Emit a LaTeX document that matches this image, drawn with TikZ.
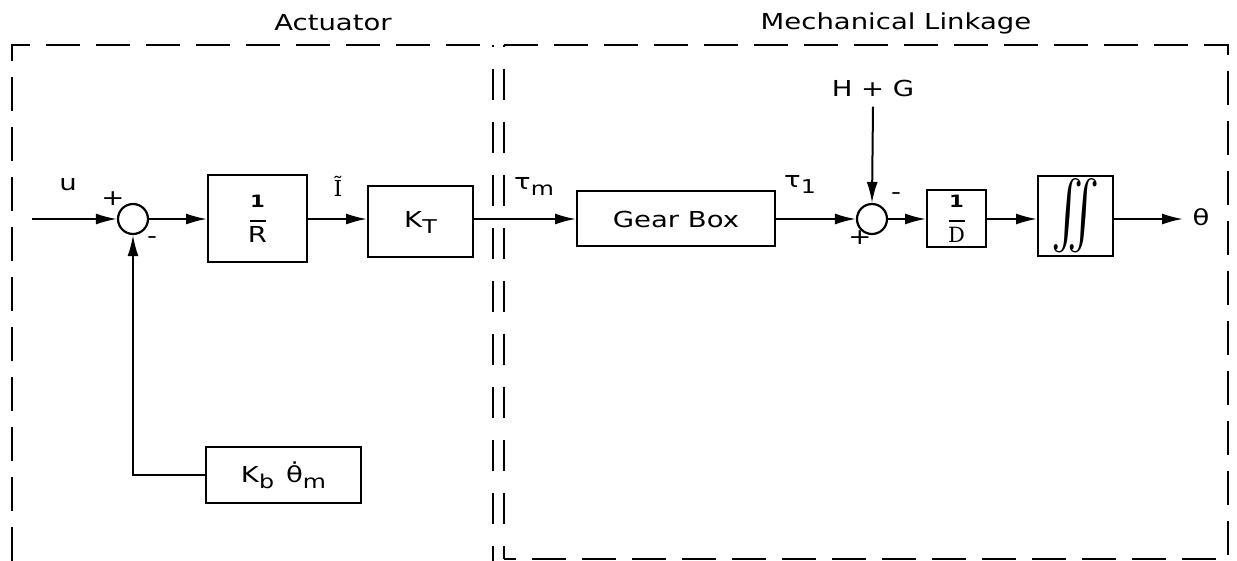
\documentclass[tikz,border=0pt]{standalone}
\usepackage{fontspec}
\usepackage{graphicx}
\setmainfont{DejaVu Sans}[FakeStretch=1.25]
\newfontfamily\serifd{DejaVu Serif}
\usetikzlibrary{arrows.meta}
\newcommand\lsub[1]{\raisebox{-6pt}{\fontsize{19}{19}\selectfont #1}}
\begin{document}
\begin{tikzpicture}[x=1pt,y=-1pt,
  every node/.style={font=\fontsize{22}{24}\selectfont},
  blk/.style={draw,line width=2pt,inner sep=0pt},
  sumj/.style={draw,circle,line width=2.2pt,minimum size=30pt,inner sep=0pt},
  sig/.style={line width=2pt,-{Latex[length=21pt,width=11pt]}},
  grp/.style={line width=2.6pt,dash pattern=on 34pt off 16pt},
  vgrp/.style={line width=2.6pt,dash pattern=on 31pt off 22pt,dash phase=29pt},
  lbl/.style={inner sep=0pt}]
\useasboundingbox (0,0) rectangle (1237,561);

% group frames
\draw[grp] (12,561) -- (12,45) -- (493,45);
\draw[vgrp] (493,45) -- (493,561);
\draw[grp] (504,45) -- (1228,45) -- (1228,559) -- (504,559);
\draw[vgrp] (504,45) -- (504,559);
\node[lbl] (tact) at (333,23) {Actuator};
\node[lbl] (tmech) at (896,23) {Mechanical Linkage};

% blocks
\node[sumj] (s1) at (133,219) {};
\node[blk,minimum width=99pt,minimum height=87pt,align=center] (r) at (257.5,219)
  {\fontsize{17}{17}\selectfont\bfseries 1\\[-10pt]\rule{16pt}{2pt}\\[-3pt]\fontsize{22}{22}\selectfont R};
\node[blk,minimum width=105pt,minimum height=71pt] (kt) at (420.5,222) {K\lsub{T}};
\node[blk,minimum width=198pt,minimum height=55pt] (gb) at (676,219) {Gear Box};
\node[sumj] (s2) at (872,219) {};
\node[blk,minimum width=59pt,minimum height=57pt,align=center] (d) at (956.5,219)
  {\fontsize{17}{17}\selectfont\bfseries 1\\[-10pt]\rule{16pt}{2pt}\\[-3pt]\serifd\fontsize{21}{21}\selectfont D};
\node[blk,minimum width=75pt,minimum height=80pt] (int) at (1075.5,216)
  {\resizebox{48pt}{72pt}{$\int\!\!\int$}};
\node[blk,minimum width=155pt,minimum height=56pt] (kb) at (283.5,475)
  {K\lsub{b}\hspace{12pt}θ̇\lsub{m}};

\coordinate (in) at (32,219);
\coordinate (out) at (1183,219);
\node[lbl] (hg) at (873,88) {H + G};

% connectors
\draw[sig] (in) -- (s1.west);
\draw[sig] (s1.east) -- (r.west);
\draw[sig] (r.east) -- (kt.west |- r.east);
\draw[sig] (kt.east |- r.east) -- (gb.west);
\draw[sig] (gb.east) -- (s2.west);
\draw[sig] (s2.east) -- (d.west);
\draw[sig] (d.east) -- (int.west |- d.east);
\draw[sig] (int.east |- d.east) -- (out);
\draw[sig] (kb.west) -| (s1.south);
\draw[sig] (hg.south) ++(0,10) -- (s2.north);

% labels
\node[lbl] (lu) at (68,184) {u};
\node[lbl] (lp1) at (113,199) {+};
\node[lbl] (lm1) at (152,240) {-};
\node[lbl] (li) at (338,186) {\serifd\fontsize{22}{22}\selectfont Ĩ};
\node[lbl,anchor=west] (ltm) at (514,186) {τ\lsub{m}};
\node[lbl,anchor=west] (lt1) at (784,184) {τ\lsub{1}};
\node[lbl] (lm2) at (896,196) {-};
\node[lbl] (lp2) at (860,238) {+};
\node[lbl] (lth) at (1201,217) {θ};
\end{tikzpicture}
\end{document}
